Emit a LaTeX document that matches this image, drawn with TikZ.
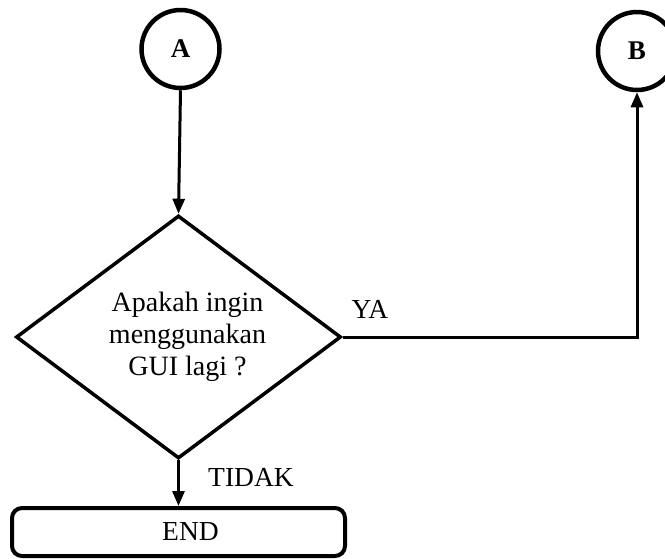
\documentclass[tikz,border=0pt]{standalone}
\usepackage{fontspec}
\setmainfont{Liberation Serif}
\usetikzlibrary{shapes.geometric,arrows.meta}
\begin{document}
\begin{tikzpicture}[x=1pt,y=-1pt,
  conn/.style={circle,draw,line width=4.5pt,minimum size=78pt,inner sep=0pt,font=\fontsize{27}{30}\selectfont\bfseries},
  decision/.style={diamond,aspect=1.34,draw,line width=3.5pt,minimum width=325pt,minimum height=243pt,inner sep=0pt,font=\fontsize{28}{32}\selectfont},
  termbox/.style={rectangle,rounded corners=10pt,draw,line width=4pt,minimum width=333pt,minimum height=48pt,inner sep=0pt,font=\fontsize{27.5}{30}\selectfont},
  flow/.style={line width=3pt,-{Triangle[length=15pt,width=12pt]}},
  lbl/.style={font=\fontsize{27.5}{30}\selectfont,inner sep=0pt}]
\useasboundingbox (0,0) rectangle (665,558);
\node[conn] (A) at (180.5,49) {A};
\node[conn] (B) at (637,51) {B};
\node[decision] (D) at (178.5,337) {\hspace*{18pt}\begin{tabular}{@{}c@{}}Apakah ingin\\menggunakan\\GUI lagi ?\end{tabular}};
\node[termbox] (E) at (178.5,532) {\hspace*{24pt}END};
\node[lbl] (ya) at (370,309) {YA};
\node[lbl] (tidak) at (251,477) {TIDAK};
\draw[flow] (A.south) -- (D.north);
\draw[flow] (D.east) -| (B.south);
\draw[flow] (D.south) -- (E.north);
\end{tikzpicture}
\end{document}
